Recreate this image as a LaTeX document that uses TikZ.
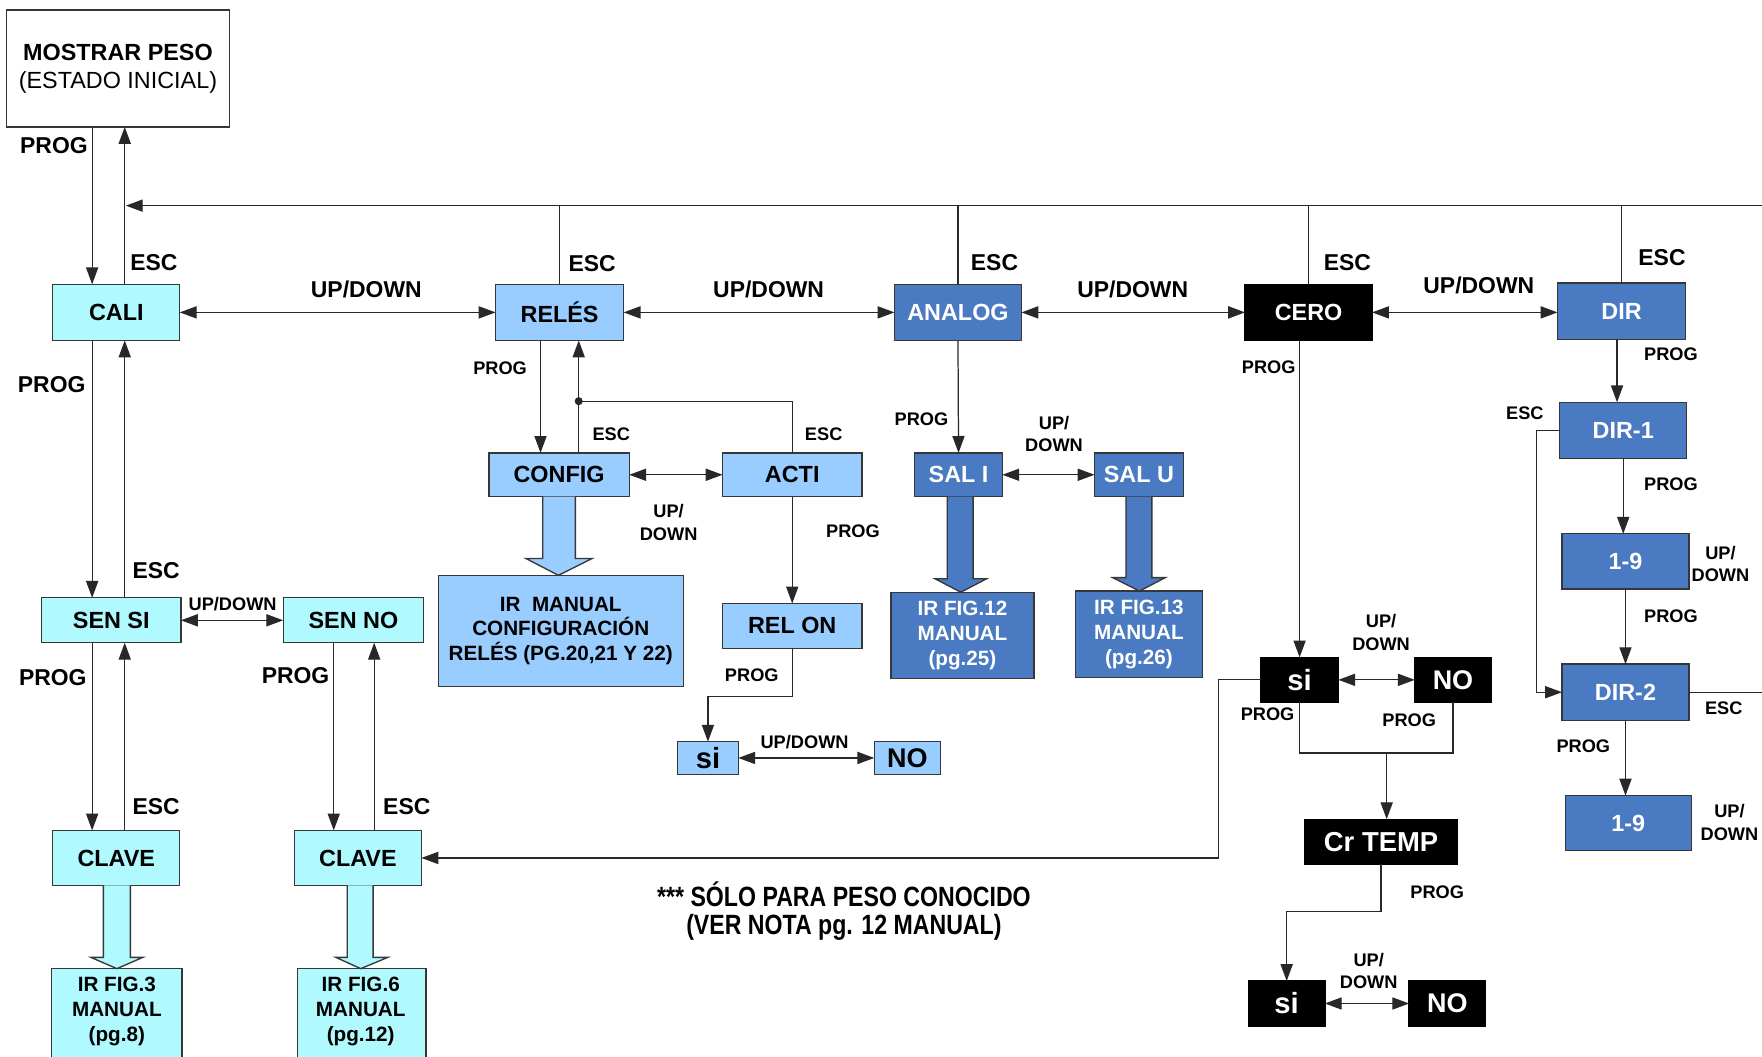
\documentclass[tikz,border=0pt]{standalone}
\usepackage{fontspec}
\setmainfont{Liberation Sans}
\usepackage{graphicx}
\usetikzlibrary{arrows.meta,calc}
\definecolor{cyanb}{RGB}{175,249,255}
\definecolor{ltblue}{RGB}{153,204,255}
\definecolor{midblue}{RGB}{74,122,193}
\definecolor{bord}{RGB}{55,55,55}
\definecolor{lin}{RGB}{40,40,40}
\newcommand\mybox[7]{\node[#6, minimum width={(#4-#2)*0.5pt}, minimum height={(#5-#3)*0.5pt}] (#1) at ({(#2+#4)/2},{(#3+#5)/2}) {#7};}
\begin{document}
\begin{tikzpicture}[x=0.5pt,y=-0.5pt,
  bx/.style={draw=bord,line width=0.6pt,inner sep=0pt,outer sep=0pt,align=center,font=\bfseries\fontsize{10.4}{12}\selectfont},
  cy/.style={bx,fill=cyanb},
  lb/.style={bx,fill=ltblue},
  mb/.style={bx,fill=midblue,text=white},
  bk/.style={bx,fill=black,draw=black,text=white},
  big/.style={inner sep=0pt,font=\bfseries\fontsize{10.2}{12}\selectfont},
  sml/.style={inner sep=0pt,align=center,font=\bfseries\fontsize{8.1}{10}\selectfont},
  irt/.style={font=\bfseries\fontsize{9.2}{11}\selectfont},
  tip/.style={},
  arr/.style={draw=lin,line width=0.55pt,-{Triangle[length=7.5pt,width=5.4pt]}},
  dbl/.style={draw=lin,line width=0.55pt,{Triangle[length=7.5pt,width=5.4pt]}-{Triangle[length=7.5pt,width=5.4pt]}},
  ln/.style={draw=lin,line width=0.55pt},
  blk/.style={draw=bord,line width=0.6pt}
]
\fill[white] (0,0) rectangle (1568,940);
\useasboundingbox (0,0) rectangle (1568,940);

% ---------- boxes ----------
\mybox{mostrar}{6}{9}{204}{113}{bx,fill=white,font=\fontsize{10.4}{12.5}\selectfont}{\textbf{MOSTRAR PESO}\\(ESTADO INICIAL)}
\mybox{cali}{47}{253}{160}{303}{cy}{CALI}
\mybox{reles}{441}{253}{555}{303}{lb}{RELÉS}
\mybox{analog}{796}{253}{909}{303}{mb}{ANALOG}
\mybox{cero}{1108}{253}{1221}{303}{bk}{CERO}
\mybox{dir}{1386}{252}{1500}{302}{mb}{DIR}
\mybox{sensi}{37}{532}{161}{572}{cy}{SEN SI}
\mybox{senno}{252}{532}{377}{572}{cy}{SEN NO}
\mybox{clave1}{47}{739}{160}{788}{cy}{CLAVE}
\mybox{clave2}{262}{739}{375}{788}{cy}{CLAVE}
\mybox{fig3}{46}{862}{162}{952}{cy}{}
\mybox{fig6}{265}{862}{379}{952}{cy}{}
\mybox{config}{435}{403}{560}{442}{lb}{CONFIG}
\mybox{acti}{643}{403}{767}{442}{lb}{ACTI}
\mybox{irman}{390}{512}{608}{611}{lb,font=\bfseries\fontsize{9.2}{11}\selectfont}{IR\ \ MANUAL\\CONFIGURACIÓN\\RELÉS (PG.20,21 Y 22)}
\mybox{relon}{643}{537}{767}{577}{lb}{REL ON}
\mybox{si1}{603}{660}{657}{689}{lb,font=\bfseries\fontsize{13}{14}\selectfont}{si}
\mybox{no1}{778}{660}{837}{689}{lb,font=\bfseries\fontsize{12}{14}\selectfont}{NO}
\mybox{sali}{814}{403}{892}{442}{mb}{SAL I}
\mybox{salu}{974}{403}{1053}{442}{mb}{SAL U}
\mybox{fig12}{793}{527}{920}{604}{mb,font=\bfseries\fontsize{9.2}{11}\selectfont}{IR FIG.12\\MANUAL\\(pg.25)}
\mybox{fig13}{957}{526}{1070}{603}{mb,font=\bfseries\fontsize{9.2}{11}\selectfont}{IR FIG.13\\MANUAL\\(pg.26)}
\mybox{si2}{1122}{585}{1191}{625}{bk,font=\bfseries\fontsize{13}{14}\selectfont}{si}
\mybox{no2}{1259}{585}{1327}{625}{bk,font=\bfseries\fontsize{12}{14}\selectfont}{NO}
\mybox{crtemp}{1161}{729}{1297}{769}{bk,font=\bfseries\fontsize{12.2}{14}\selectfont}{Cr TEMP}
\mybox{si3}{1111}{873}{1179}{913}{bk,font=\bfseries\fontsize{13}{14}\selectfont}{si}
\mybox{no3}{1254}{873}{1322}{913}{bk,font=\bfseries\fontsize{12}{14}\selectfont}{NO}
\mybox{dir1}{1388}{358}{1501}{408}{mb}{DIR-1}
\mybox{nuevea}{1390}{475}{1503}{524}{mb}{1-9}
\mybox{dir2}{1390}{591}{1503}{641}{mb}{DIR-2}
\mybox{nueveb}{1393}{708}{1505}{757}{mb}{1-9}

% texts of the boxes cut by the lower edge
\node[irt,align=center] (t3) at (104,900) {IR FIG.3\\MANUAL\\(pg.8)};
\node[irt,align=center] (t6) at (321,900) {IR FIG.6\\MANUAL\\(pg.12)};

% ---------- block arrows ----------
\filldraw[blk,fill=cyanb] (92,788) -- (92,852) -- (81,852) -- (104,862) -- (127,852) -- (116,852) -- (116,788);
\filldraw[blk,fill=cyanb] (309,788) -- (309,852) -- (299,852) -- (321,862) -- (345,852) -- (332,852) -- (332,788);
\filldraw[blk,fill=ltblue] (483,442) -- (483,497) -- (468,497) -- (497,512) -- (527,497) -- (512,497) -- (512,442);
\filldraw[blk,fill=midblue] (843,442) -- (843,515) -- (832,515) -- (855,527) -- (878,515) -- (866,515) -- (866,442);
\filldraw[blk,fill=midblue] (1002,442) -- (1002,514) -- (990,514) -- (1014,526) -- (1037,514) -- (1025,514) -- (1025,442);

% ---------- helper coordinates ----------
\coordinate (x82) at (82,0);
\coordinate (x111) at (111,0);
\coordinate (x297) at (297,0);
\coordinate (x333) at (333,0);
\coordinate (x481) at (481,0);
\coordinate (x515) at (515,0);
\coordinate (x1439) at (1439,0);
\coordinate (busR) at (1568,183);
\coordinate (busL) at (112,183);
\coordinate (dot) at (515,357);
\coordinate (k1) at (0,620);
\coordinate (k2) at (1084,700);
\coordinate (k3) at (1234,670);
\coordinate (k4) at (0,811);
\coordinate (k5) at (1367,500);
\coordinate (dirR) at (1568,0);

% ---------- connectors ----------
\draw[arr] (mostrar.south -| x82) -- (cali.north -| x82);
\draw[arr] (cali.north -| x111) -- (mostrar.south -| x111);
\draw[arr] (busR) -- (busL);
\draw[ln] (reles.north) -- (reles.north |- busR);
\draw[ln] (analog.north) -- (analog.north |- busR);
\draw[ln] (cero.north) -- (cero.north |- busR);
\draw[ln] (dir.north) -- (dir.north |- busR);

\draw[dbl] (cali.east) -- (reles.west);
\draw[dbl] (reles.east) -- (analog.west);
\draw[dbl] (analog.east) -- (cero.west);
\draw[dbl] (cero.east) -- (cero.east -| dir.west);

\draw[arr] (cali.south -| x82) -- (sensi.north -| x82);
\draw[arr] (sensi.north -| x111) -- (cali.south -| x111);
\draw[dbl] (sensi.east) -- (senno.west);
\draw[arr] (sensi.south -| x82) -- (clave1.north -| x82);
\draw[arr] (clave1.north -| x111) -- (sensi.south -| x111);
\draw[arr] (senno.south -| x297) -- (clave2.north -| x297);
\draw[arr] (clave2.north -| x333) -- (senno.south -| x333);

\draw[arr] (reles.south -| x481) -- (config.north -| x481);
\draw[arr] (config.north -| x515) -- (reles.south -| x515);
\fill[lin] (dot) circle (1.8pt);
\draw[ln] (dot) -| (acti.north);
\draw[dbl] (config.east) -- (acti.west);
\draw[arr] (acti.south) -- (relon.north);
\draw[arr] (relon.south) -- (relon.south |- k1) -| (si1.north);
\draw[dbl] (si1.east) -- (no1.west);

\draw[arr] (analog.south) -- (sali.north);
\draw[dbl] (sali.east) -- (salu.west);

\draw[arr] (cero.south -| si2.north) -- (si2.north);
\draw[dbl] (si2.east) -- (no2.west);
\draw[arr] (si2.west) -| (k2) |- (clave2.east);
\draw[ln] (si2.south) |- (k3) -| (no2.south);
\draw[arr] (k3) -- (crtemp.north -| k3);
\draw[arr] (crtemp.south) -- (crtemp.south |- k4) -| (si3.north);
\draw[dbl] (si3.east) -- (no3.west);

\draw[arr] (dir.south -| x1439) -- (dir1.north -| x1439);
\draw[arr] (dir1.south) -- (dir1.south |- nuevea.north);
\draw[arr] (nuevea.south) -- (dir2.north);
\draw[arr] (dir2.south) -- (dir2.south |- nueveb.north);
\draw[arr] (dir1.west) -| (k5) |- (dir2.west);
\draw[ln] (dir2.east) -- (dir2.east -| dirR);

% ---------- labels ----------
\node[big] (l1) at (48,130) {PROG};
\node[big] (l2) at (137,234) {ESC};
\node[big] (l3) at (326,258) {UP/DOWN};
\node[big] (l4) at (684,258) {UP/DOWN};
\node[big] (l5) at (1008,258) {UP/DOWN};
\node[big] (l6) at (1316,254) {UP/DOWN};
\node[big] (l7) at (527,235) {ESC};
\node[big] (l8) at (885,234) {ESC};
\node[big] (l9) at (1199,234) {ESC};
\node[big] (l10) at (1479,229) {ESC};
\node[big] (l11) at (46,342) {PROG};
\node[big] (l12) at (139,508) {ESC};
\node[big] (l13) at (47,603) {PROG};
\node[big] (l14) at (263,601) {PROG};
\node[big] (l15) at (139,718) {ESC};
\node[big] (l16) at (362,718) {ESC};

\node[sml] (s1) at (207,538) {UP/DOWN};
\node[sml] (s2) at (445,328) {PROG};
\node[sml] (s3) at (544,386) {ESC};
\node[sml] (s4) at (733,386) {ESC};
\node[sml] (s5) at (595,465) {UP/\\DOWN};
\node[sml] (s6) at (759,473) {PROG};
\node[sml] (s7) at (669,601) {PROG};
\node[sml] (s8) at (716,660) {UP/DOWN};
\node[sml] (s9) at (820,373) {PROG};
\node[sml] (s10) at (938,386) {UP/\\DOWN};
\node[sml] (s11) at (1129,327) {PROG};
\node[sml] (s12) at (1229,563) {UP/\\DOWN};
\node[sml] (s13) at (1128,636) {PROG};
\node[sml] (s14) at (1254,641) {PROG};
\node[sml] (s15) at (1279,794) {PROG};
\node[sml] (s16) at (1218,864) {UP/\\DOWN};
\node[sml] (s17) at (1487,315) {PROG};
\node[sml] (s18) at (1357,368) {ESC};
\node[sml] (s19) at (1487,431) {PROG};
\node[sml] (s20) at (1531,502) {UP/\\DOWN};
\node[sml] (s21) at (1487,548) {PROG};
\node[sml] (s22) at (1534,630) {ESC};
\node[sml] (s23) at (1409,664) {PROG};
\node[sml] (s24) at (1539,732) {UP/\\DOWN};

\node[inner sep=0pt,align=center,font=\bfseries\fontsize{12.4}{12.5}\selectfont] (note) at (751,811)
  {\scalebox{0.83}[1]{*** SÓLO PARA PESO CONOCIDO}\\\scalebox{0.83}[1]{(VER NOTA pg. 12 MANUAL)}};
\end{tikzpicture}
\end{document}
